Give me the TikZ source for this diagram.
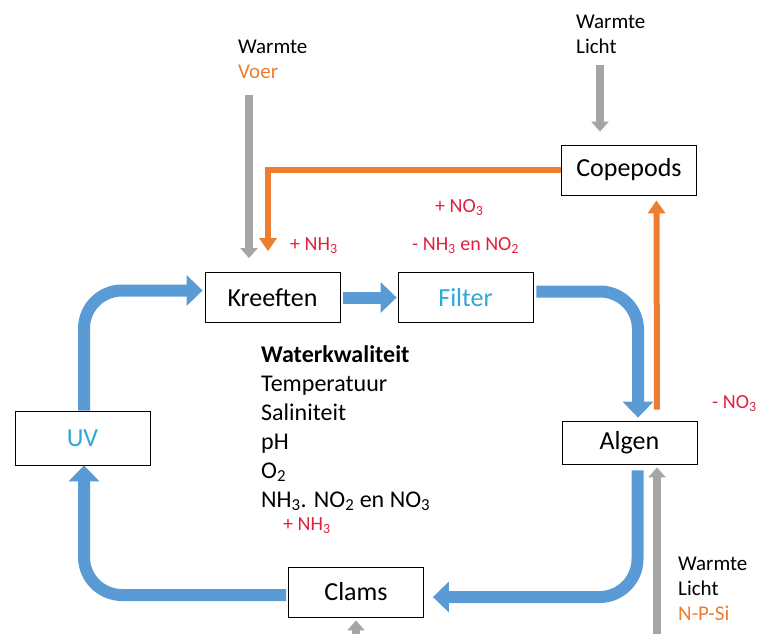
\documentclass[tikz,border=0pt]{standalone}
\usepackage{fontspec}
\setmainfont{Carlito}
\usetikzlibrary{arrows.meta}
\definecolor{flowblue}{HTML}{5B9BD5}
\definecolor{feedorange}{HTML}{ED7D31}
\definecolor{heatgray}{HTML}{A5A5A5}
\definecolor{notered}{HTML}{E0203C}
\definecolor{techblue}{HTML}{2FA8D8}
\tikzstyle{stage} = [rectangle, minimum width=135pt, minimum height=50pt, text centered, draw=black, fill=white, line width=0.8pt, font=\fontsize{26}{30}\selectfont]
\tikzstyle{source} = [anchor=north west, inner sep=0pt, align=left, font=\fontsize{21}{25}\selectfont]
\tikzstyle{note} = [anchor=base west, inner sep=0pt, text=notered, font=\fontsize{20}{24}\selectfont]
\tikzstyle{flow} = [draw=flowblue, line width=12pt, rounded corners=38pt, -{Triangle[width=30pt,length=16pt]}]
\tikzstyle{feed} = [draw=feedorange, line width=6pt, -{Triangle[width=17pt,length=13pt]}]
\tikzstyle{heat} = [draw=heatgray, line width=8pt, -{Triangle[width=17pt,length=10pt]}]
\begin{document}
\begin{tikzpicture}[x=1pt, y=-1pt]
\useasboundingbox (0,0) rectangle (760,634);
\node (kreeften) [stage] at (272.5,297.5) {Kreeften};
\node (filter) [stage, text=techblue] at (465.5,297.5) {Filter};
\node (copepods) [stage] at (629,170) {Copepods};
\node (algen) [stage, minimum height=43pt] at (629.5,442.5) {Algen};
\node (uv) [stage, minimum height=54pt, text=techblue] at (82.5,438) {UV};
\node (clams) [stage] at (356,592) {Clams};
\node (inkreeften) [source] at (238,40) {Warmte\\\textcolor{feedorange}{Voer}};
\node (incopepods) [source] at (576,15) {Warmte\\Licht};
\node (inalgen) [source] at (678,557) {Warmte\\Licht\\\textcolor{feedorange}{N-P-Si}};
\node (nh3a) [note] at (290,250) {+ NH\textsubscript{3}};
\node (no3a) [note] at (435,212) {+ NO\textsubscript{3}};
\node (nh3b) [note] at (412,250) {- NH\textsubscript{3} en NO\textsubscript{2}};
\node (no3b) [note] at (712,408) {- NO\textsubscript{3}};
\node (water) [anchor=north west, inner sep=0pt, align=left, font=\fontsize{24}{29}\selectfont] at (261,345) {\textbf{Waterkwaliteit}\\Temperatuur\\Saliniteit\\pH\\O\textsubscript{2}\\NH\textsubscript{3}. NO\textsubscript{2} en NO\textsubscript{3}};
\node (nh3c) [note] at (283,530) {+ NH\textsubscript{3}};
\draw [flow, shorten >=2pt] ([xshift=1.5pt]uv.north) |- ([yshift=7pt]kreeften.west);
\draw [flow, shorten <=3pt, shorten >=1pt] (kreeften.east) -- (filter.west);
\draw [flow, shorten <=3pt, shorten >=3pt] ([yshift=6pt]filter.east) -| ([xshift=8.5pt]algen.north);
\draw [flow, shorten <=6pt, shorten >=9pt] ([xshift=8pt]algen.south) |- ([yshift=-5pt]clams.east);
\draw [flow, shorten <=2pt] ([yshift=-3pt]clams.west) -| ([xshift=1.5pt]uv.south);
\draw [feed, shorten >=21pt] (copepods.west) -| ([xshift=-4.5pt]kreeften.north);
\draw [feed, shorten <=11pt, shorten >=5pt] ([xshift=27.5pt]algen.north) -- ([xshift=27.5pt]copepods.south);
\coordinate (voerin) at (249,95);
\coordinate (lichtin) at (600,65);
\coordinate (npsiin) at (657,634);
\coordinate (clamsin) at (356,634);
\draw [heat, shorten >=14pt] (voerin) -- (voerin |- kreeften.north);
\draw [heat, shorten >=13pt] (lichtin) -- (lichtin |- copepods.north);
\draw [heat, shorten >=3pt] (npsiin) -- (npsiin |- algen.south);
\draw [heat, shorten >=3pt] (clamsin) -- (clamsin |- clams.south);
\end{tikzpicture}
\end{document}
